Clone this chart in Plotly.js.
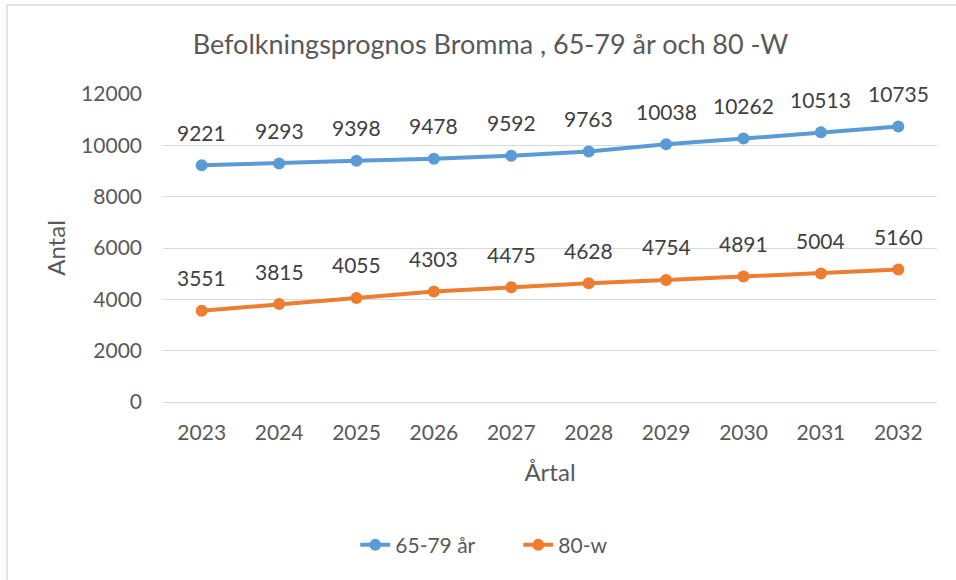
<!DOCTYPE html>
<html>
<head>
<meta charset="utf-8">
<script src="https://cdn.plot.ly/plotly-3.0.1.min.js"></script>
<style>html,body{margin:0;padding:0;background:#fff;}#chart{width:956px;height:580px;}</style>
</head>
<body>
<div id="chart"></div>
<script>
const years = ['2023','2024','2025','2026','2027','2028','2029','2030','2031','2032'];
const age6579 = [9221, 9293, 9398, 9478, 9592, 9763, 10038, 10262, 10513, 10735];
const age80w = [3551, 3815, 4055, 4303, 4475, 4628, 4754, 4891, 5004, 5160];
const seriesNames = ['65-79 år', '80-w'];
const yTicks = [0, 2000, 4000, 6000, 8000, 10000, 12000];

const FONT = 'Lato, "Open Sans", sans-serif';
const colors = ['#5B9BD5', '#ED7D31'];

const traces = [age6579, age80w].map((vals, i) => ({
  x: years, y: vals, name: seriesNames[i], type: 'scatter', mode: 'lines+markers',
  line: {color: colors[i], width: 4},
  marker: {color: colors[i], size: 12},
  hoverinfo: 'skip'
}));

const annotations = [];
[age6579, age80w].forEach(vals => {
  vals.forEach((v, j) => annotations.push({
    x: j, y: v, xref: 'x', yref: 'y', text: String(v), showarrow: false,
    yshift: 33, font: {family: FONT, size: 21, color: '#404040'}
  }));
});

const layout = {
  width: 956, height: 580,
  margin: {l: 163, r: 19, t: 94, b: 178},
  paper_bgcolor: '#fff', plot_bgcolor: '#fff',
  font: {family: FONT, color: '#595959', size: 21},
  title: {text: 'Befolkningsprognos Bromma , 65-79 år och 80 -W', x: 0.513, xanchor: 'center', y: 0.924, yanchor: 'middle',
          font: {family: FONT, size: 27, color: '#595959'}},
  xaxis: {type: 'category', range: [-0.5, 9.5], autorange: false, showgrid: false, zeroline: false, showline: false, ticks: '',
          ticklabelstandoff: 16,
          tickfont: {family: FONT, size: 21, color: '#595959'},
          title: {text: 'Årtal', font: {family: FONT, size: 24, color: '#595959'}, standoff: 21}},
  yaxis: {range: [0, 12000], autorange: false, tickvals: yTicks, ticktext: yTicks.map(String),
          showgrid: true, gridcolor: '#d9d9d9', gridwidth: 1,
          zeroline: true, zerolinecolor: '#d9d9d9', showline: false, ticks: '',
          ticklabelstandoff: 20,
          tickfont: {family: FONT, size: 21, color: '#595959'},
          title: {text: 'Antal', font: {family: FONT, size: 24, color: '#595959'}, standoff: 8}},
  showlegend: true,
  legend: {orientation: 'h', x: 0.459, xanchor: 'center', y: -0.465, yanchor: 'middle',
           font: {family: FONT, size: 21, color: '#595959'}, tracegroupgap: 0,
           itemwidth: 30, entrywidth: 118, entrywidthmode: 'pixels'},
  annotations: annotations,
  shapes: [{type: 'rect', xref: 'paper', yref: 'paper', x0: -0.2016, x1: 1.04, y0: -0.6, y1: 1.289,
            line: {color: '#d9d9d9', width: 1.5}, fillcolor: 'rgba(0,0,0,0)', layer: 'below'}]
};

Plotly.newPlot('chart', traces, layout, {displayModeBar: false, staticPlot: true});
</script>
</body>
</html>
